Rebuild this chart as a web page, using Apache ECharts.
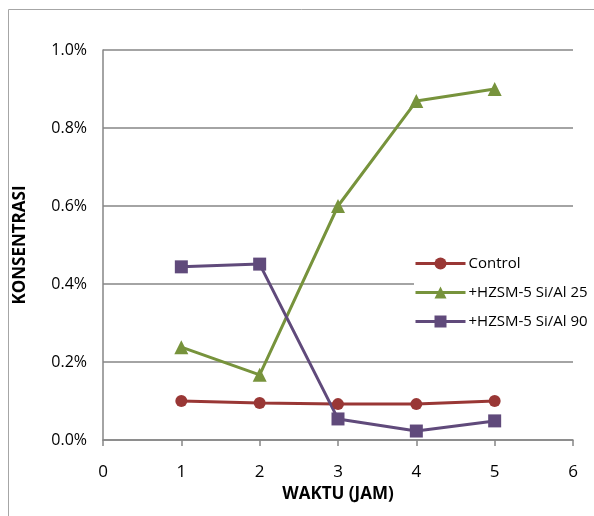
<!DOCTYPE html>
<html>
<head>
<meta charset="utf-8">
<script src="https://cdn.jsdelivr.net/npm/echarts@6/dist/echarts.min.js"></script>
<style>
  html, body { margin: 0; padding: 0; background: #fff; }
  #chart { width: 594px; height: 516px; }
</style>
</head>
<body>
<div id="chart"></div>
<script>
// data (values in %)
var hours = [1, 2, 3, 4, 5];
var control = [0.100, 0.095, 0.092, 0.092, 0.100];
var hzsm25 = [0.238, 0.167, 0.600, 0.869, 0.900];
var hzsm90 = [0.444, 0.451, 0.054, 0.023, 0.049];
var seriesNames = ['Control', '+HZSM-5 Si/Al 25', '+HZSM-5 Si/Al 90'];

function pairs(vals) {
  var out = [];
  for (var i = 0; i < hours.length; i++) out.push([hours[i], vals[i]]);
  return out;
}

var font = 'Open Sans, Liberation Sans, sans-serif';
var chart = echarts.init(document.getElementById('chart'));

var lineSeries = function (name, vals, color, symbol, size) {
  return {
    name: name,
    type: 'line',
    data: pairs(vals),
    symbol: symbol,
    symbolSize: size,
    showAllSymbol: true,
    lineStyle: { color: color, width: 3 },
    itemStyle: { color: color },
    emphasis: { disabled: true }
  };
};

var option = {
  animation: false,
  grid: { left: 103, right: 21, top: 50, bottom: 76 },
  graphic: [{
    type: 'rect',
    shape: { x: 8.5, y: 9.5, width: 700, height: 700 },
    style: { fill: 'none', stroke: '#a6a6a6', lineWidth: 1 },
    silent: true
  }],
  legend: {
    orient: 'vertical',
    left: 414,
    top: 254,
    itemWidth: 50,
    itemHeight: 15,
    itemGap: 14,
    backgroundColor: '#fff',
    padding: [2, 0, 2, 0],
    textStyle: { fontFamily: font, fontSize: 15, color: '#000', padding: [0, 0, 0, -2] },
    lineStyle: { width: 3 },
    data: seriesNames
  },
  xAxis: {
    type: 'value',
    min: 0,
    max: 6,
    interval: 1,
    name: 'WAKTU (JAM)',
    nameLocation: 'middle',
    nameGap: 46,
    nameTextStyle: { fontFamily: font, fontSize: 17, fontWeight: 'bold', color: '#000' },
    axisLine: { show: true, lineStyle: { color: '#868686', width: 1.5 } },
    axisTick: { show: true, length: 6, lineStyle: { color: '#868686', width: 1.5 } },
    splitLine: { show: false },
    axisLabel: { fontFamily: font, fontSize: 17, color: '#000', margin: 24 }
  },
  yAxis: {
    type: 'value',
    min: 0,
    max: 1.0,
    interval: 0.2,
    name: 'KONSENTRASI',
    nameLocation: 'middle',
    nameRotate: 90,
    nameGap: 74,
    nameTextStyle: { fontFamily: font, fontSize: 17, fontWeight: 'bold', color: '#000' },
    axisLine: { show: true, lineStyle: { color: '#868686', width: 1.5 } },
    axisTick: { show: false },
    splitLine: { show: true, lineStyle: { color: '#868686', width: 1.5 } },
    axisLabel: {
      fontFamily: font, fontSize: 16, color: '#000', margin: 16,
      formatter: function (v) { return v.toFixed(1) + '%'; }
    }
  },
  series: [
    lineSeries(seriesNames[0], control, '#993735', 'circle', 12),
    lineSeries(seriesNames[1], hzsm25, '#77933c', 'triangle', 14),
    lineSeries(seriesNames[2], hzsm90, '#604a7b', 'rect', 13)
  ]
};

chart.setOption(option);
</script>
</body>
</html>
